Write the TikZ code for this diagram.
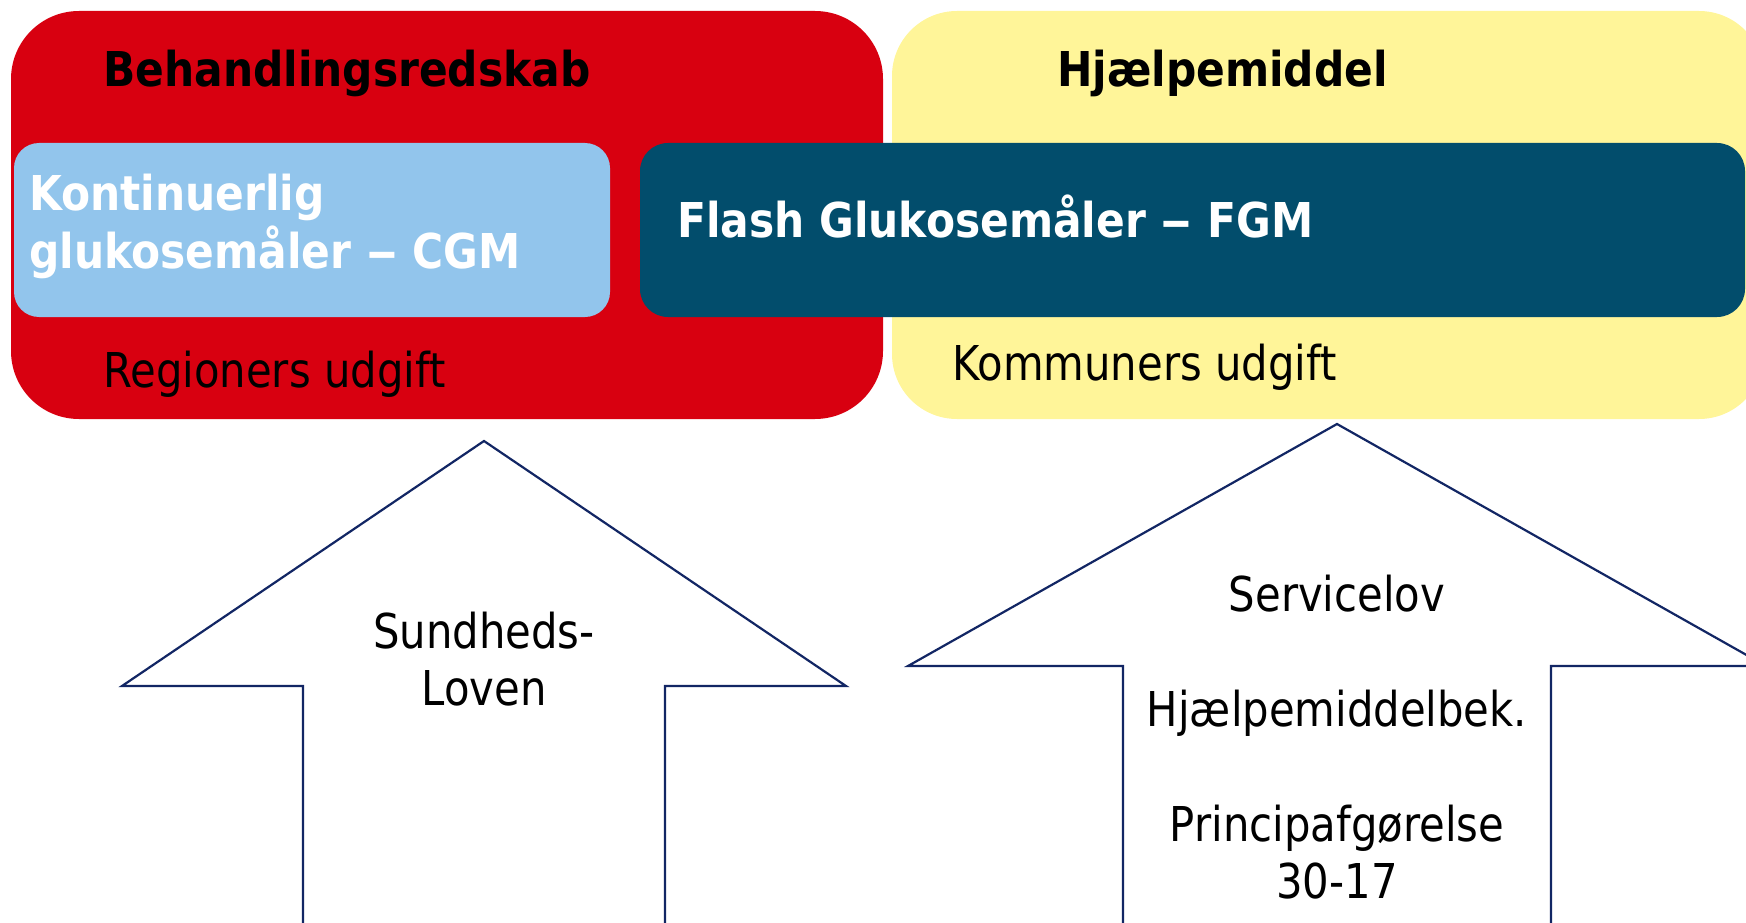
\documentclass[tikz,border=0pt]{standalone}
\usepackage{fontspec}
\setmainfont{DejaVu Sans}[FakeStretch=0.87,BoldFeatures={FakeStretch=0.883}]
\definecolor{redbox}{RGB}{216,0,16}
\definecolor{yellowbox}{RGB}{255,245,153}
\definecolor{lightblue}{RGB}{146,197,236}
\definecolor{darkblue}{RGB}{2,77,108}
\definecolor{navy}{RGB}{18,38,100}
\newcommand{\wdash}{\scalebox{1.5}[1]{–}}
\begin{document}
\begin{tikzpicture}[x=1pt,y=-1pt,
  txt/.style={inner sep=0pt,font=\fontsize{48}{57.5}\selectfont},
  btxt/.style={txt,font=\fontsize{48}{57.5}\selectfont\bfseries},
  arrowshape/.style={draw=navy,line width=2.2pt,fill=white,line join=miter}]
\useasboundingbox (0,0) rectangle (1746,923);
% big boxes
\fill[yellowbox,rounded corners=65pt] (892,11) rectangle (1764,419);
\fill[redbox,rounded corners=68pt] (11,11) rectangle (883,419);
% inner boxes
\fill[lightblue,rounded corners=25pt] (14,143) rectangle (610,317);
\fill[darkblue,rounded corners=28pt] (640,143) rectangle (1745,317);
% texts in boxes
\node[btxt,anchor=base west] (t1) at (103,87) {Behandlingsredskab};
\node[btxt,anchor=base west] (t2) at (1057,87) {Hjælpemiddel};
\node[btxt,anchor=base west,text=white] (t3) at (29,211) {Kontinuerlig};
\node[btxt,anchor=base west,text=white] (t4) at (29,268) {glukosemåler \wdash{} CGM};
\node[btxt,anchor=base west,text=white] (t5) at (677,237) {Flash Glukosemåler \wdash{} FGM};
\node[txt,anchor=base west] (t6) at (103,387) {Regioners udgift};
\node[txt,anchor=base west] (t7) at (952,380) {Kommuners udgift};
% arrows
\draw[arrowshape] (303,930) -- (303,686) -- (122,686) -- (484,441) -- (846,686) -- (665,686) -- (665,930);
\draw[arrowshape] (1123,930) -- (1123,666) -- (908,666) -- (1337,424) -- (1766,666) -- (1551,666) -- (1551,930);
% arrow texts
\node[txt,anchor=base] (a1) at (484,648) {Sundheds-};
\node[txt,anchor=base] (a2) at (484,705) {Loven};
\node[txt,anchor=base] (b1) at (1337,611) {Servicelov};
\node[txt,anchor=base] (b2) at (1337,726) {Hjælpemiddelbek.};
\node[txt,anchor=base] (b3) at (1337,841) {Principafgørelse};
\node[txt,anchor=base] (b4) at (1337,898) {30-17};
\end{tikzpicture}
\end{document}
